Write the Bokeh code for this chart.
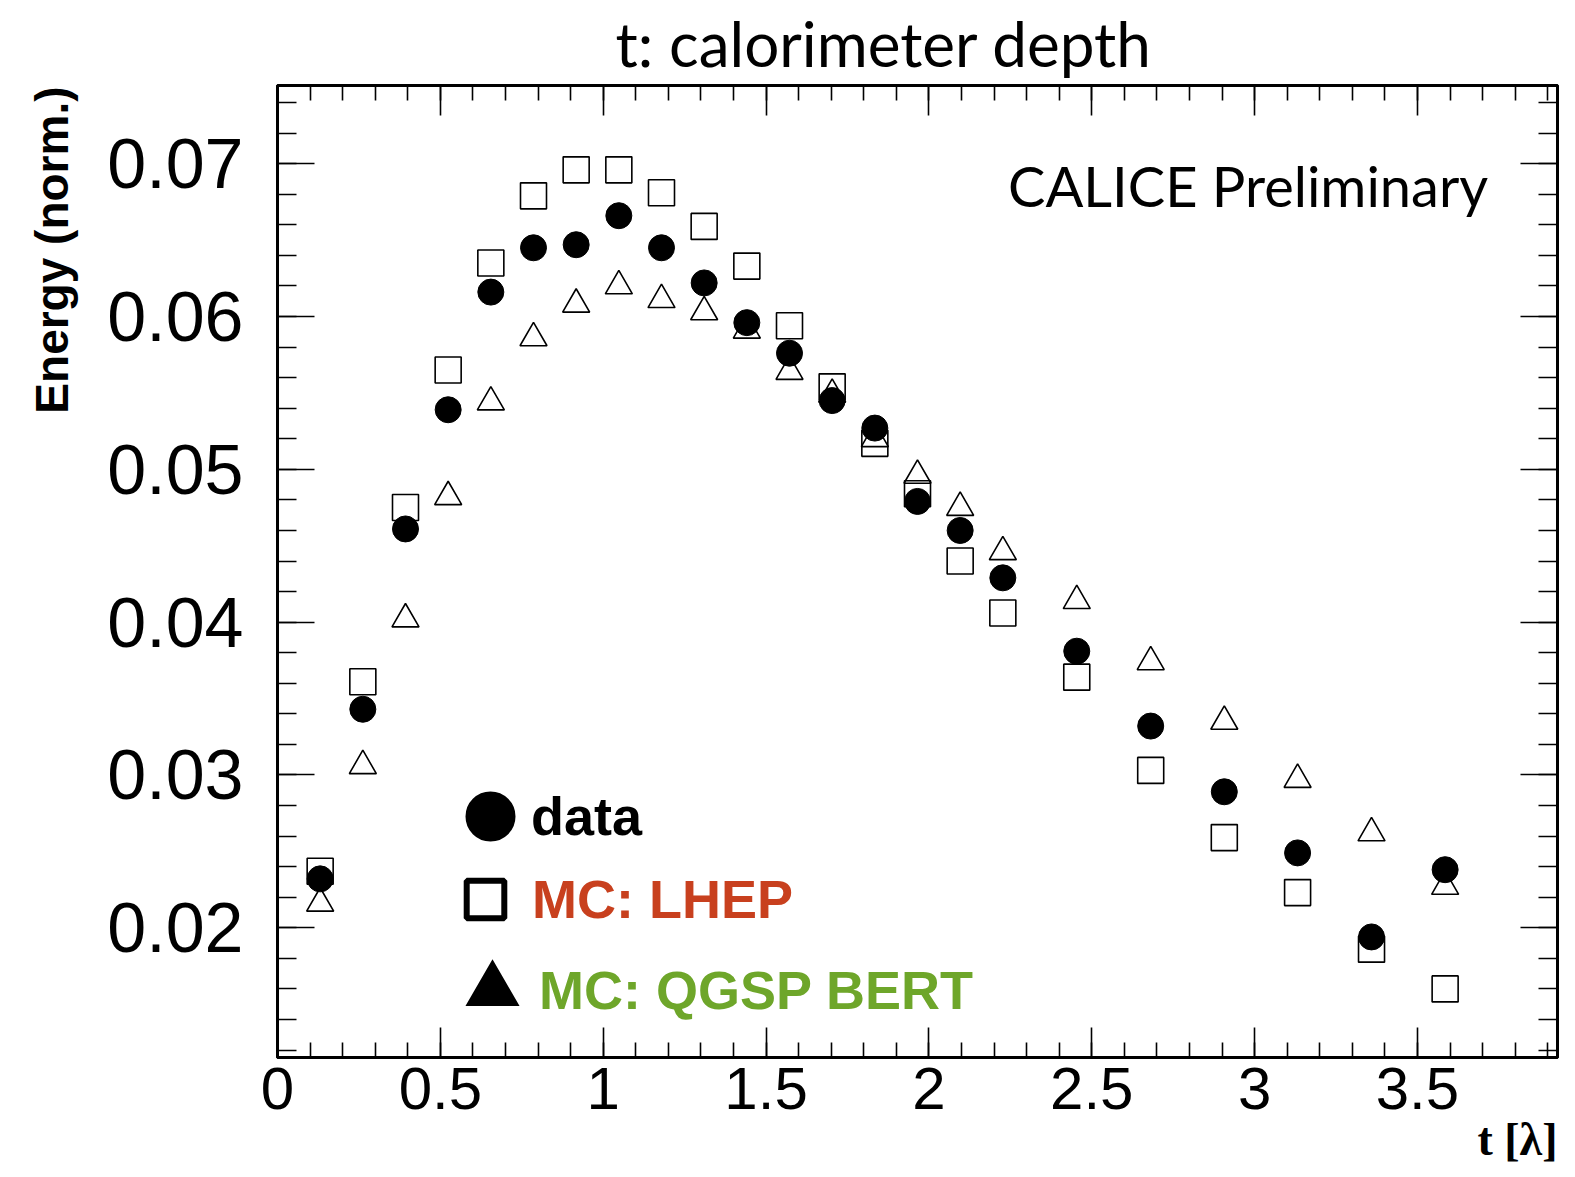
import math
from bokeh.plotting import figure
from bokeh.models import (Range1d, LinearAxis, SingleIntervalTicker, NumeralTickFormatter,
                          CustomJSTickFormatter, Label, Legend, LegendItem, ColumnDataSource,
                          Title)
from bokeh.embed import file_html
from bokeh.resources import INLINE

# ---- data ----
depth = [0.131, 0.262, 0.393, 0.524, 0.655, 0.786, 0.917, 1.048, 1.179, 1.310, 1.441, 1.572,
         1.703, 1.834, 1.965, 2.096, 2.227, 2.454, 2.681, 2.907, 3.132, 3.359, 3.585]
data_energy = [0.0232, 0.0343, 0.0461, 0.0539, 0.0616, 0.0645, 0.0647, 0.0666, 0.0645, 0.0622,
               0.0596, 0.0576, 0.0545, 0.0527, 0.0479, 0.0460, 0.0429, 0.0381, 0.0332, 0.0289,
               0.0249, 0.0194, 0.0238]
lhep_energy = [0.0237, 0.0361, 0.0475, 0.0565, 0.0635, 0.0679, 0.0696, 0.0696, 0.0681, 0.0659,
               0.0633, 0.0594, 0.0554, 0.0517, 0.0484, 0.0440, 0.0406, 0.0364, 0.0303, 0.0259,
               0.0223, 0.0186, 0.0160]
qgsp_energy = [0.0216, 0.0306, 0.0402, 0.0482, 0.0544, 0.0586, 0.0608, 0.0620, 0.0611, 0.0603,
               0.0591, 0.0564, 0.0549, 0.0520, 0.0496, 0.0475, 0.0446, 0.0414, 0.0374, 0.0335,
               0.0297, 0.0262, 0.0227]

series_labels = ["data", "MC: LHEP", "MC: QGSP BERT"]
title_text = "t: calorimeter depth"
watermark_text = "CALICE Preliminary"
x_title = "t [\u03bb]"
y_title = "Energy (norm.)"

X_START, X_END = 0.0, 3.93
Y_START, Y_END = 0.01151, 0.07512

# ---- figure ----
p = figure(width=1575, height=1177, output_backend="svg", toolbar_location=None,
           x_range=Range1d(X_START, X_END), y_range=Range1d(Y_START, Y_END),
           min_border_left=276, min_border_right=18, min_border_top=85, min_border_bottom=120,
           x_axis_type=None, y_axis_type=None)
p.xgrid.visible = False
p.ygrid.visible = False
p.outline_line_color = "black"
p.outline_line_width = 3
p.background_fill_color = "white"
p.border_fill_color = "white"

EMPTY = "return ''"


def make_axis(kind, show_labels):
    if kind == "x":
        ax = LinearAxis(ticker=SingleIntervalTicker(interval=0.5, num_minor_ticks=5))
        ax.major_tick_in = 30
        ax.minor_tick_in = 15
        ax.major_label_text_font_size = "60px"
        ax.major_label_standoff = 10
        ax.formatter = NumeralTickFormatter(format="0.[0]")
    else:
        ax = LinearAxis(ticker=SingleIntervalTicker(interval=0.01, num_minor_ticks=5))
        ax.major_tick_in = 37
        ax.minor_tick_in = 19
        ax.major_label_text_font_size = "70px"
        ax.major_label_standoff = 34
        ax.formatter = NumeralTickFormatter(format="0.00")
    ax.major_tick_out = 0
    ax.minor_tick_out = 0
    ax.major_tick_line_width = 1.6
    ax.minor_tick_line_width = 1.6
    ax.major_tick_line_color = "black"
    ax.minor_tick_line_color = "black"
    ax.axis_line_width = 3
    ax.axis_line_color = "black"
    ax.major_label_text_font = "Liberation Sans"
    ax.major_label_text_color = "black"
    if not show_labels:
        ax.formatter = CustomJSTickFormatter(code=EMPTY)
        ax.major_label_standoff = 0
        ax.major_label_text_font_size = "1px"
    return ax


p.add_layout(make_axis("x", True), "below")
p.add_layout(make_axis("y", True), "left")
p.add_layout(make_axis("x", False), "above")
p.add_layout(make_axis("y", False), "right")

# ---- texts outside the frame ----
p.add_layout(Title(text=title_text, text_font="Lato", text_font_size="62px",
                   text_font_style="normal", text_color="black", align="left",
                   offset=338, standoff=8, vertical_align="top"), "above")
p.add_layout(Title(text=y_title, text_font="Liberation Sans", text_font_size="46px",
                   text_font_style="bold", text_color="black", align="right",
                   offset=1, standoff=50, vertical_align="top"), "left")
p.add_layout(Title(text=x_title, text_font="Liberation Serif", text_font_size="46px",
                   text_font_style="bold", text_color="black", align="right",
                   offset=0, standoff=1, vertical_align="bottom"), "below")

src = ColumnDataSource(dict(t=depth, data=data_energy, lhep=lhep_energy, qgsp=qgsp_energy))

p.scatter("t", "lhep", source=src, marker="square", size=26, fill_color=None,
          line_color="black", line_width=1.6)
p.scatter("t", "qgsp", source=src, marker="triangle", size=27, fill_color=None,
          line_color="black", line_width=1.6)
p.scatter("t", "data", source=src, marker="circle", size=26, fill_color="black",
          line_color="black", line_width=1)

# ---- legend (three one-item legends, each with its own text colour) ----
# hidden renderers only supply the legend symbols' style
leg_data = p.scatter("t", "data", source=src, marker="circle", fill_color="black",
                     line_color="black", line_width=23.6, visible=False)
leg_lhep = p.scatter("t", "lhep", source=src, marker="square", fill_color="white",
                     line_color="black", line_width=6, visible=False)
leg_qgsp = p.scatter("t", "qgsp", source=src, marker="triangle", fill_color="black",
                     line_color="black", line_width=16, line_join="miter", visible=False)

legend_specs = [
    (series_labels[0], leg_data, "black", 66, (180, 208), 8),
    (series_labels[1], leg_lhep, "#c8401e", 94, (161, 111), 0),
    (series_labels[2], leg_qgsp, "#6ea62a", 66, (182, 34), 14),
]
for label, rend, color, g, loc, standoff in legend_specs:
    lg = Legend(items=[LegendItem(label=label, renderers=[rend])], location=loc,
                padding=0, spacing=0, margin=0, click_policy="none",
                glyph_width=g, glyph_height=g, label_standoff=standoff,
                label_text_font="Liberation Sans", label_text_font_style="bold",
                label_text_font_size="54px", label_text_color=color,
                border_line_color=None, background_fill_alpha=0)
    p.add_layout(lg)

# ---- watermark text inside the frame ----
p.add_layout(Label(x=1210.7, y=872, x_units="screen", y_units="screen", text=watermark_text,
                   text_font="Lato", text_font_size="56px", text_align="right",
                   text_baseline="alphabetic", text_color="black"))

open("out.html", "w").write(file_html(p, INLINE))
